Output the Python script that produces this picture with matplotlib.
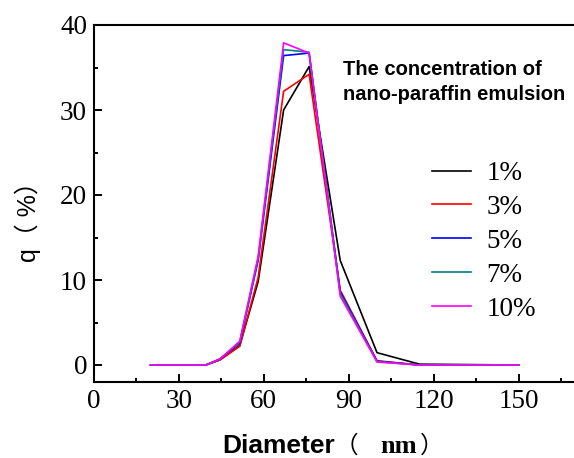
import matplotlib
matplotlib.use("Agg")
import matplotlib.pyplot as plt
from matplotlib.ticker import MultipleLocator

# particle size distribution
diameter = [20, 39.5, 44.5, 51.5, 58, 67, 76, 87, 100, 115, 150]
q_1 = [0, 0, 0.6, 2.3, 9.8, 30.0, 35.1, 12.3, 1.45, 0.1, 0]
q_3 = [0, 0, 0.6, 2.2, 10.3, 32.2, 34.2, 8.8, 0.5, 0, 0]
q_5 = [0, 0, 0.7, 2.6, 12.3, 36.4, 36.7, 8.6, 0.45, 0, 0]
q_7 = [0, 0, 0.7, 2.7, 12.5, 37.1, 36.8, 8.4, 0.4, 0, 0]
q_10 = [0, 0, 0.7, 2.8, 12.8, 37.9, 36.7, 8.1, 0.35, 0, 0]
labels = ['1%', '3%', '5%', '7%', '10%']
colors = ['black', '#ff0000', '#0000ff', '#008080', '#ff00ff']

serif = 'Liberation Serif'
sans = 'Liberation Sans'
cjk = 'Noto Sans CJK SC'

W, H = 574, 458
fig = plt.figure(figsize=(W/100, H/100), dpi=100)
ax = fig.add_axes([94/W, 1-382/H, 1-94/W, (382-25)/H])

for ys, lab, c in zip([q_1, q_3, q_5, q_7, q_10], labels, colors):
    ax.plot(diameter, ys, color=c, lw=1.2, label=lab)

ax.set_xlim(0, 169.6)
ax.set_ylim(-2, 40)
ax.xaxis.set_major_locator(MultipleLocator(30))
ax.xaxis.set_minor_locator(MultipleLocator(15))
ax.yaxis.set_major_locator(MultipleLocator(10))
ax.yaxis.set_minor_locator(MultipleLocator(5))
ax.tick_params(which='both', direction='in', width=1.4, top=False, right=False)
ax.tick_params(which='major', length=5.5, labelsize=19.5, pad=5)
ax.tick_params(which='minor', length=3)
for t in ax.get_xticklabels() + ax.get_yticklabels():
    t.set_family(serif)
for s in ax.spines.values():
    s.set_linewidth(1.5)
ax.spines['right'].set_visible(False)


# pixel positions (from top-left), anchored at baseline start
def ftext(x, y, s, **kw):
    fig.text(x/W, 1-y/H, s, ha='left', va='baseline', **kw)


# x label, pieced together like the original
ftext(222, 453, 'Diameter', family=sans, weight='bold', fontsize=19)
ftext(335, 453, '（', family=cjk, fontsize=17)
ftext(380, 453, 'nm', family=serif, weight='bold', fontsize=19)
ftext(420, 453, '）', family=cjk, fontsize=17)

# y label
fig.text(28/W, 1-216/H, 'q（ %）', family=[sans, cjk], fontsize=18,
         rotation=90, ha='center', va='center')

fig.text(343/W, 1-82/H, 'The concentration of\nnano-paraffin emulsion',
         family=sans, weight='bold', fontsize=14.5, ha='left', va='center',
         linespacing=1.4)

leg = ax.legend(loc='upper left', bbox_to_anchor=(432/W, 1-161/H),
                bbox_transform=fig.transFigure, frameon=False,
                prop={'family': serif, 'size': 19.5}, handlelength=1.45,
                handletextpad=0.55, labelspacing=0.33, borderpad=0,
                borderaxespad=0)

fig.savefig('out.png', dpi=100)
